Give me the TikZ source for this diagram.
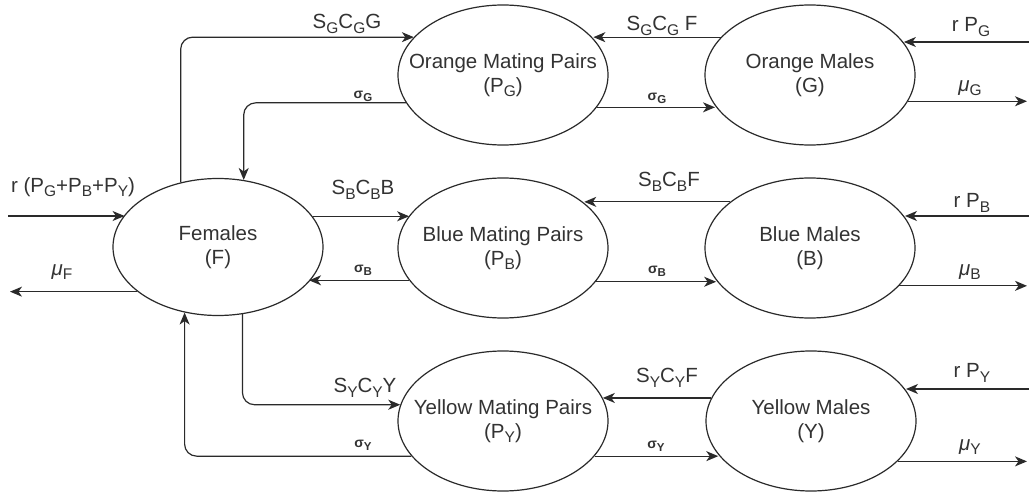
\documentclass[tikz,border=0pt]{standalone}
\usepackage{fontspec}
\setmainfont{Liberation Sans}
\usetikzlibrary{shapes.geometric,arrows.meta}
\definecolor{ink}{HTML}{2A2A2A}
\definecolor{txt}{HTML}{333333}
% subscripts for the rate labels and state names
\newcommand\lo[1]{\raisebox{-4.5pt}{\fontsize{15.5}{15.5}\selectfont #1}}
\newcommand\slo[1]{\raisebox{-3pt}{\fontsize{11.5}{11.5}\selectfont #1}}
\begin{document}
\begin{tikzpicture}[x=1pt,y=-1pt,
  state/.style={draw=ink, line width=1.2pt, ellipse, minimum width=210pt,
    minimum height=140pt, inner sep=0pt},
  statetext/.style={text=txt, align=center, inner sep=0pt,
    font=\fontsize{20.5}{24}\selectfont},
  flow/.style={draw=ink, line width=1.2pt, rounded corners=12pt,
    -{Stealth[length=12pt,width=10pt,inset=3.5pt]}},
  lab/.style={text=txt, inner sep=0pt, font=\fontsize{20.5}{24}\selectfont},
  sig/.style={text=txt, inner sep=0pt, font=\bfseries\fontsize{14}{14}\selectfont}]
\fill[white] (0,0) rectangle (1029,495);
\useasboundingbox (0,0) rectangle (1029,495);

% compartments
\node[state, minimum height=137pt, label={[statetext]center:{Females\\(F)}}] (F) at (218,247) {};
\node[state, label={[statetext]center:{Orange Mating Pairs\\(P\lo{G})}}] (PG) at (503,75) {};
\node[state, label={[statetext]center:{Orange Males\\(G)}}] (G) at (810,75) {};
\node[state, label={[statetext]center:{Blue Mating Pairs\\(P\lo{B})}}] (PB) at (503,248) {};
\node[state, label={[statetext]center:{Blue Males\\(B)}}] (B) at (810,248) {};
\node[state, label={[statetext]center:{Yellow Mating Pairs\\(P\lo{Y})}}] (PY) at (503,421) {};
\node[state, label={[statetext]center:{Yellow Males\\(Y)}}] (Y) at (811,421) {};

% free ends of inflows and outflows
\coordinate (rin) at (8,216);
\coordinate (muF) at (10,292);
\coordinate (rPG) at (1029,42);
\coordinate (muG) at (1027,100);
\coordinate (rPB) at (1029,216);
\coordinate (muB) at (1027,285);
\coordinate (rPY) at (1029,389);
\coordinate (muY) at (1027,460);

% females
\draw[flow] (rin) -- (rin -| F.161.7);
\draw[flow] (F.209.6) -- (F.209.6 -| muF);

% orange row
\draw[flow] (F.120) |- (PG.157.5);
\draw[flow] (PG.196.2) -| (F.69.4);
\draw[flow] (G.157.5) -- (G.157.5 -| PG.22.5);
\draw[flow] (PG.341.1) -- (PG.341.1 -| G.198.9);
\draw[flow] (rPG) -- (rPG -| G.19.6);
\draw[flow] (G.345.7) -- (G.345.7 -| muG);

% blue row
\draw[flow] (F.18.3) -- (F.18.3 -| PB.161.1);
\draw[flow] (PB.199.6) -- (PB.199.6 -| F.339.6);
\draw[flow] (B.150.8) -- (B.150.8 -| PB.29.2);
\draw[flow] (PB.340.4) -- (PB.340.4 -| B.199.6);
\draw[flow] (rPB) -- (rPB -| B.18.9);
\draw[flow] (B.337.5) -- (B.337.5 -| muB);

% yellow row
\draw[flow] (F.290.6) |- (PY.171.1);
\draw[flow] (PY.201.8) -| (F.243.1);
\draw[flow] (Y.167) -- (Y.167 -| PY.13);
\draw[flow] (PY.339.7) -- (PY.339.7 -| Y.200.3);
\draw[flow] (rPY) -- (rPY -| Y.18.9);
\draw[flow] (Y.335.9) -- (Y.335.9 -| muY);

% rate labels
\node[lab] (lrin) at (73,187) {r (P\lo{G}+P\lo{B}+P\lo{Y})};
\node[lab] (lmuF) at (62,272) {\textit{μ}\lo{F}};

\node[lab] (lsgG) at (347,24) {S\lo{G}C\lo{G}G};
\node[sig] (lsigG1) at (363,96) {σ\slo{G}};
\node[lab] (lsgF) at (662,26) {S\lo{G}C\lo{G} F};
\node[sig] (lsigG2) at (657,98) {σ\slo{G}};
\node[lab] (lrPG) at (971,27) {r P\lo{G}};
\node[lab] (lmuG) at (970,88) {\textit{μ}\lo{G}};

\node[lab] (lsbB) at (363,190) {S\lo{B}C\lo{B}B};
\node[sig] (lsigB1) at (363,270) {σ\slo{B}};
\node[lab] (lsbF) at (669,182) {S\lo{B}C\lo{B}F};
\node[sig] (lsigB2) at (657,271) {σ\slo{B}};
\node[lab] (lrPB) at (972,203) {r P\lo{B}};
\node[lab] (lmuB) at (970,272) {\textit{μ}\lo{B}};

\node[lab] (lsyY) at (365,388) {S\lo{Y}C\lo{Y}Y};
\node[sig] (lsigY1) at (363,445) {σ\slo{Y}};
\node[lab] (lsyF) at (667,378) {S\lo{Y}C\lo{Y}F};
\node[sig] (lsigY2) at (656,446) {σ\slo{Y}};
\node[lab] (lrPY) at (972,373) {r P\lo{Y}};
\node[lab] (lmuY) at (970,447) {\textit{μ}\lo{Y}};
\end{tikzpicture}
\end{document}
